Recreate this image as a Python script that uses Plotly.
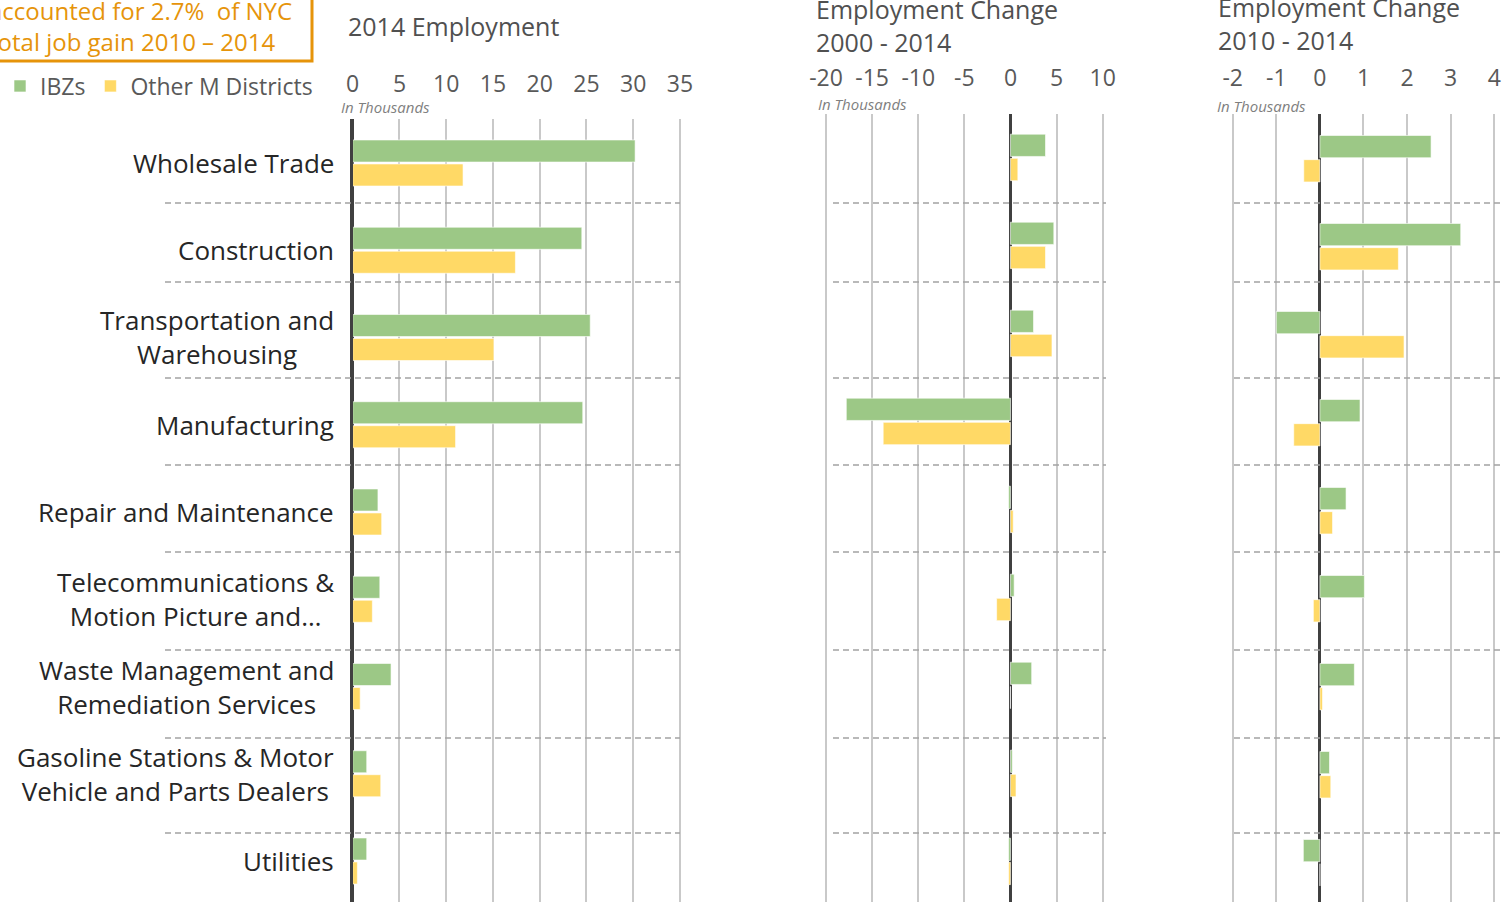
import plotly.graph_objects as go

CATEGORIES = [
    "Wholesale Trade",
    "Construction",
    "Transportation and<br>Warehousing",
    "Manufacturing",
    "Repair and Maintenance",
    "Telecommunications &<br>Motion Picture and…",
    "Waste Management and<br>Remediation Services",
    "Gasoline Stations & Motor<br>Vehicle and Parts Dealers",
    "Utilities",
]
SERIES = ["IBZs", "Other M Districts"]

# 2014 employment, thousands
EMP_2014_IBZ = [30.2, 24.5, 25.4, 24.6, 2.7, 2.9, 4.1, 1.5, 1.5]
EMP_2014_OTHER = [11.8, 17.4, 15.1, 11.0, 3.1, 2.1, 0.8, 3.0, 0.5]
# employment change 2000 - 2014, thousands
CHG_0014_IBZ = [3.8, 4.7, 2.5, -17.8, -0.2, 0.4, 2.3, 0.2, -0.2]
CHG_0014_OTHER = [0.8, 3.8, 4.5, -13.8, 0.3, -1.5, 0.0, 0.6, -0.2]
# employment change 2010 - 2014, thousands
CHG_1014_IBZ = [2.55, 3.23, -1.0, 0.92, 0.6, 1.02, 0.79, 0.22, -0.38]
CHG_1014_OTHER = [-0.37, 1.8, 1.93, -0.6, 0.29, -0.15, 0.06, 0.25, 0.0]

TICKS_2014 = [0, 5, 10, 15, 20, 25, 30, 35]
TICKS_0014 = [-20, -15, -10, -5, 0, 5, 10]
TICKS_1014 = [-2, -1, 0, 1, 2, 3, 4]

TITLES = ["2014 Employment", "Employment Change<br>2000 - 2014",
          "Employment Change<br>2010 - 2014"]
CALLOUT = "accounted for 2.7%  of NYC<br>total job gain 2010 – 2014"

W, H = 1504, 902
FONT = "Open Sans"
GREEN = "#9CC886"
YELLOW = "#FFD966"
GRID = "#C9C9C9"
AXIS = "#404040"
TICK = "#595959"
ORANGE = "#E6940A"


def px(x):
    return x / W


def py(y):
    return 1 - y / H


panels = [
    dict(data=(EMP_2014_IBZ, EMP_2014_OTHER), ticks=TICKS_2014, pad=(0, 0.2),
         xpx=(352.7, 680), top=119.4, c0=163, step=87.25,
         title=(346, 26), note=(339, 107), sep=(165, 680)),
    dict(data=(CHG_0014_IBZ, CHG_0014_OTHER), ticks=TICKS_0014, pad=(0.2, 0.2),
         xpx=(826, 1102.7), top=113.5, c0=157.4, step=88,
         title=(814, 25.5), note=(816, 104), sep=(833, 1106)),
    dict(data=(CHG_1014_IBZ, CHG_1014_OTHER), ticks=TICKS_1014, pad=(0.04, 0.04),
         xpx=(1232.7, 1494.3), top=113.5, c0=158.7, step=88,
         title=(1216, 23), note=(1215, 106), sep=(1234, 1500)),
]
SEP_Y = [203, 282, 378, 465, 552, 650, 738, 833]

fig = go.Figure()
layout = {}
annotations = []
shapes = []

for n, p in enumerate(panels, start=1):
    sfx = "" if n == 1 else str(n)
    lo, hi = p["ticks"][0], p["ticks"][-1]
    unit = (p["xpx"][1] - p["xpx"][0]) / (hi - lo)
    d0 = p["xpx"][0] - p["pad"][0] * unit
    d1 = p["xpx"][1] + p["pad"][1] * unit
    for name, vals, col in zip(SERIES, p["data"], [GREEN, YELLOW]):
        fig.add_trace(go.Bar(
            x=vals, y=CATEGORIES, orientation="h", name=name,
            marker=dict(color=col, line=dict(color="rgba(255,255,255,0.6)", width=1)),
            xaxis="x" + sfx, yaxis="y" + sfx, showlegend=(n == 1),
            hovertemplate="%{y}: %{x}<extra>" + name + "</extra>",
        ))
    layout["xaxis" + sfx] = dict(
        domain=[px(d0), px(d1)], range=[lo - p["pad"][0], hi + p["pad"][1]],
        tickvals=p["ticks"], ticktext=[str(t) for t in p["ticks"]],
        side="top", anchor="y" + sfx, automargin=False,
        showgrid=True, gridcolor=GRID, gridwidth=2,
        zeroline=True, zerolinecolor=AXIS, zerolinewidth=2.5, showline=False,
        ticks="outside", ticklen=17, tickcolor="rgba(0,0,0,0)",
        tickfont=dict(family=FONT, size=23, color=TICK), fixedrange=True,
    )
    layout["yaxis" + sfx] = dict(
        domain=[0, py(p["top"])],
        range=[(H - p["c0"]) / p["step"], (p["top"] - p["c0"]) / p["step"]],
        type="category", categoryorder="array", categoryarray=CATEGORIES,
        anchor="x" + sfx, automargin=False,
        showticklabels=False, showgrid=False, zeroline=False, ticks="",
        showline=(n == 1), linecolor=AXIS, linewidth=2.5, fixedrange=True,
    )
    annotations.append(dict(
        text=TITLES[n - 1], xref="paper", yref="paper",
        x=px(p["title"][0]), y=py(p["title"][1]), xanchor="left", yanchor="middle",
        align="left", showarrow=False, font=dict(family=FONT, size=25, color="#505050"),
    ))
    annotations.append(dict(
        text="<i>In Thousands</i>", xref="paper", yref="paper",
        x=px(p["note"][0]), y=py(p["note"][1]), xanchor="left", yanchor="middle",
        showarrow=False, font=dict(family=FONT, size=15, color="#7F7F7F"),
    ))
    for y in SEP_Y:
        shapes.append(dict(
            type="line", xref="paper", yref="paper",
            x0=px(p["sep"][0]), x1=px(p["sep"][1]), y0=py(y), y1=py(y),
            line=dict(color="#A3A3A3", width=1.6, dash="6px,4px"), layer="above",
        ))

# category labels, centred lines, right edge against the first panel
for cat in CATEGORIES:
    annotations.append(dict(
        text=cat, xref="paper", yref="y", x=px(336), y=cat,
        xanchor="right", yanchor="middle", align="center", showarrow=False,
        font=dict(family=FONT, size=26, color="#262626"),
    ))

# orange call-out box, cut off by the page edge
annotations.append(dict(
    text=CALLOUT, xref="paper", yref="paper", x=px(-13), y=py(25.5),
    xanchor="left", yanchor="middle", align="left", showarrow=False,
    font=dict(family=FONT, size=24, color=ORANGE),
))
shapes.append(dict(
    type="rect", xref="paper", yref="paper", x0=px(-30), x1=px(312),
    y0=py(61), y1=py(-30), line=dict(color=ORANGE, width=3),
    fillcolor="rgba(0,0,0,0)",
))

fig.update_layout(
    **layout,
    template="none",
    width=W, height=H,
    margin=dict(l=0, r=0, t=0, b=0, autoexpand=False),
    paper_bgcolor="white", plot_bgcolor="white",
    barmode="group", bargap=0.45, bargroupgap=0.08,
    annotations=annotations, shapes=shapes,
    legend=dict(
        orientation="h", x=px(0), y=py(86), xanchor="left", yanchor="middle",
        font=dict(family=FONT, size=23, color=TICK), bgcolor="rgba(0,0,0,0)",
        itemwidth=30, traceorder="normal", borderwidth=0,
    ),
    font=dict(family=FONT),
    showlegend=True,
)

# the page's default 8px body margin would push the figure out of the window
fig.write_html("out.html", config={"displayModeBar": False},
               post_script="document.body.style.margin='0';")
